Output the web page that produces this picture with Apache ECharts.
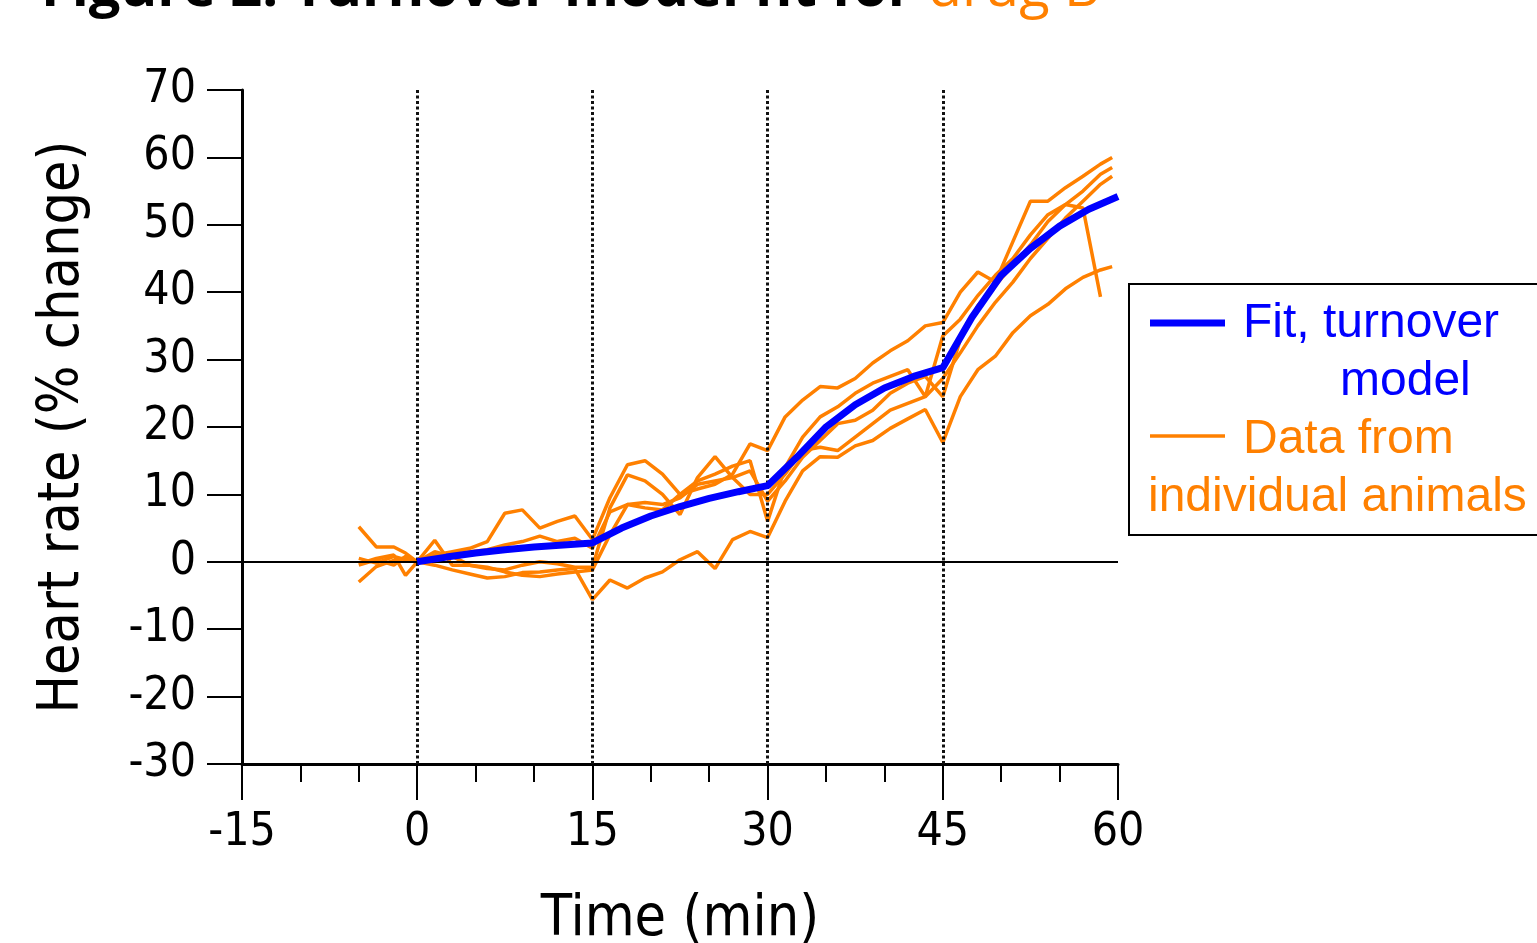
<!DOCTYPE html>
<html>
<head>
<meta charset="utf-8">
<script src="https://cdn.jsdelivr.net/npm/echarts@6/dist/echarts.min.js"></script>
<style>
  html, body { margin: 0; padding: 0; background: #fff; }
  #chart { width: 1537px; height: 943px; }
</style>
</head>
<body>
<div id="chart"></div>
<script>
// sampling times (min) shared by all animals
const timeMin = [-5, -3.5, -2, -1, 0, 1.5, 3, 4.5, 6, 7.5, 9, 10.5, 12, 13.5, 15,
  16.5, 18, 19.5, 21, 22.5, 24, 25.5, 27, 28.5, 30, 31.5, 33, 34.5, 36, 37.5, 39,
  40.5, 42, 43.5, 45, 46.5, 48, 49.5, 51, 52.5, 54, 55.5, 57, 58.5, 59.5];

// heart rate, % change, per animal
const animalA = [-0.5, 0.3, -0.5, 0.8, 0, -0.5, -1.2, -1.8, -2.4, -2.2, -1.6, -1.5, -1.2, -1.0, -5.6,
  -2.7, -3.9, -2.4, -1.5, 0.3, 1.5, -1.0, 3.3, 4.5, 3.6, 9, 13.5, 15.6, 15.5, 17.2, 18,
  19.8, 21.2, 22.6, 17.7, 24.5, 28.5, 30.5, 34, 36.5, 38.2, 40.5, 42.2, 43.3, 43.8];
const animalB = [5.2, 2.2, 2.2, 1.3, 0, 1.0, 1.5, 2.0, 3.0, 7.2, 7.7, 5.0, 6.0, 6.8, 3.3,
  9.5, 14.4, 15.0, 13.0, 10.0, 10.8, 11.5, 13.0, 17.5, 16.5, 21.5, 24, 26, 25.8, 27.2, 29.5,
  31.3, 32.8, 35, 35.5, 40, 43, 41.5, 47.5, 53.5, 53.5, 55.5, 57.2, 59, 60];
const animalC = [-3.0, -0.7, 0.2, 0.6, 0, 3.2, -0.5, -0.5, -1.0, -1.2, -0.5, 0.0, -0.3, -0.8, -0.8,
  8.0, 12.9, 12.0, 10.0, 7.0, 12.5, 15.6, 12.5, 10.0, 10.0, 13, 16.5, 17, 16.5, 18.5, 20.5,
  22.5, 23.5, 24.5, 27.2, 31, 35, 38.5, 41.5, 45, 48, 51, 53.5, 56, 57.2];
const animalD = [-0.3, 0.5, 1.0, -2.0, 0, 0.5, 1.0, 1.5, 1.8, 2.5, 3.0, 3.8, 3.0, 3.5, 2.0,
  7.4, 8.5, 8.0, 7.7, 10.0, 12.0, 13.0, 14.2, 15.0, 6.0, 14, 18.5, 21.5, 23, 25, 26.5,
  27.5, 28.5, 24.5, 33.5, 36, 39.5, 42.5, 45, 48.5, 51.5, 53, 52.5, 39.3, null];
const animalE = [0.5, -0.2, 0.8, 0.3, 0, 1.5, 0.8, -0.5, -0.8, -1.5, -2.0, -2.2, -1.8, -1.5, -1.2,
  4, 8.5, 8.8, 8.5, 9.5, 11.5, 12, 12.5, 13.5, 9, 12, 15.5, 18, 20.5, 21, 22.5,
  25, 26.5, 27.5, 24.5, 33, 38, 41, 44, 47, 50.5, 53, 55, 57.5, 58.5];

// turnover model fit
const fitTime = [0, 2.5, 5, 7.5, 10, 12.5, 15, 17.5, 20, 22.5, 25, 27.5, 30,
  32.5, 35, 37.5, 40, 42.5, 45, 47.5, 50, 52.5, 55, 57.5, 60];
const fitValue = [0, 0.7, 1.3, 1.8, 2.2, 2.5, 2.8, 5.0, 6.8, 8.2, 9.4, 10.4, 11.3,
  15.5, 20.0, 23.3, 25.8, 27.5, 28.8, 36.3, 42.5, 46.5, 49.8, 52.3, 54.2];

const doseTimes = [0, 15, 30, 45];
const animals = [animalA, animalB, animalC, animalD, animalE];

const ORANGE = '#FF8000';
const BLUE = '#0000FF';
const axisFont = '"DejaVu Sans Condensed", "DejaVu Sans", sans-serif';
const legendFont = '"Liberation Sans", Arial, sans-serif';

const chart = echarts.init(document.getElementById('chart'));

const series = [];
animals.forEach((vals, idx) => {
  const s = {
    name: 'Data from individual animals',
    type: 'line',
    symbol: 'none',
    z: 3,
    lineStyle: { color: ORANGE, width: 3.5 },
    data: timeMin.map((t, i) => [t, vals[i]]).filter(p => p[1] !== null)
  };
  if (idx === 0) {
    // dose markers + zero line
    s.markLine = {
      silent: true,
      symbol: 'none',
      animation: false,
      label: { show: false },
      data: doseTimes.map(t => ({ xAxis: t, lineStyle: { type: [3, 2.5], color: '#111', width: 3 } }))
        .concat([{ yAxis: 0, lineStyle: { type: 'solid', color: '#000', width: 2 } }])
    };
  }
  series.push(s);
});
series.push({
  name: 'Fit, turnover model',
  type: 'line',
  symbol: 'none',
  z: 5,
  lineStyle: { color: BLUE, width: 7 },
  data: fitTime.map((t, i) => [t, fitValue[i]])
});

const option = {
  animation: false,
  backgroundColor: '#fff',
  title: {
    text: '{a|Figure 2. Turnover model fit for }{b|drug B}',
    left: 36,
    top: -43,
    textStyle: {
      rich: {
        a: { fontSize: 56, fontWeight: 'bold', color: '#000', fontFamily: '"Open Sans", sans-serif' },
        b: { fontSize: 56, fontWeight: 'normal', color: ORANGE, fontFamily: '"Open Sans", sans-serif' }
      }
    }
  },
  grid: { left: 242, right: 419, top: 90, bottom: 179, containLabel: false, outerBoundsMode: 'none' },
  xAxis: {
    type: 'value',
    min: -15,
    max: 60,
    interval: 15,
    axisLine: { show: true, onZero: false, lineStyle: { color: '#000', width: 3 } },
    axisTick: { show: true, length: 36, lineStyle: { color: '#000', width: 2 } },
    minorTick: { show: true, splitNumber: 3, length: 18, lineStyle: { color: '#000', width: 2 } },
    splitLine: { show: false },
    axisLabel: { fontSize: 46, color: '#000', margin: 46, fontFamily: axisFont },
    name: 'Time (min)',
    nameLocation: 'middle',
    nameGap: 128,
    nameTextStyle: { fontSize: 57, color: '#000', fontFamily: axisFont }
  },
  yAxis: {
    type: 'value',
    min: -30,
    max: 70,
    interval: 10,
    axisLine: { show: true, onZero: false, lineStyle: { color: '#000', width: 3 } },
    axisTick: { show: true, length: 35, lineStyle: { color: '#000', width: 2 } },
    splitLine: { show: false },
    axisLabel: { fontSize: 46, color: '#000', margin: 46, fontFamily: axisFont },
    name: 'Heart rate (% change)',
    nameLocation: 'middle',
    nameGap: 150,
    nameRotate: 90,
    nameTextStyle: { fontSize: 57, color: '#000', fontFamily: axisFont }
  },
  graphic: [
    { type: 'rect', shape: { x: 1129, y: 284, width: 430, height: 251 },
      style: { fill: '#fff', stroke: '#000', lineWidth: 2 } },
    { type: 'line', shape: { x1: 1150, y1: 323, x2: 1225, y2: 323 },
      style: { stroke: BLUE, lineWidth: 7 } },
    { type: 'text', x: 1243, y: 324,
      style: { text: 'Fit, turnover', fill: BLUE, fontSize: 48, fontFamily: legendFont, verticalAlign: 'middle' } },
    { type: 'text', x: 1340, y: 382,
      style: { text: 'model', fill: BLUE, fontSize: 48, fontFamily: legendFont, verticalAlign: 'middle' } },
    { type: 'line', shape: { x1: 1150, y1: 436, x2: 1225, y2: 436 },
      style: { stroke: ORANGE, lineWidth: 3.5 } },
    { type: 'text', x: 1243, y: 440,
      style: { text: 'Data from', fill: ORANGE, fontSize: 48, fontFamily: legendFont, verticalAlign: 'middle' } },
    { type: 'text', x: 1148, y: 498,
      style: { text: 'individual animals', fill: ORANGE, fontSize: 48, fontFamily: legendFont, verticalAlign: 'middle' } }
  ],
  series
};

chart.setOption(option);
</script>
</body>
</html>
